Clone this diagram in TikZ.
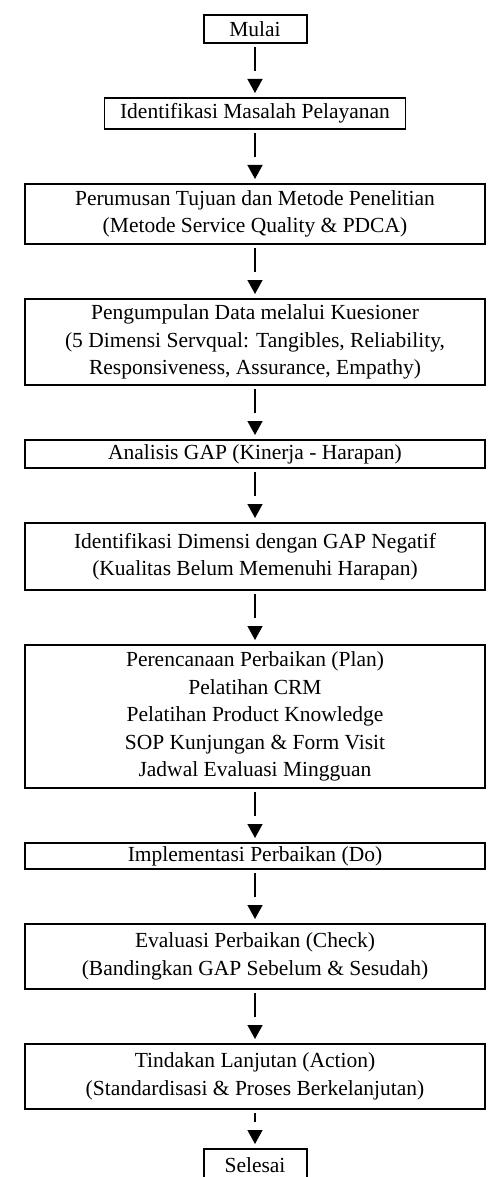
\documentclass[tikz,border=0pt]{standalone}
\usepackage{fontspec}
\setmainfont{Liberation Serif}
\usetikzlibrary{arrows.meta, positioning}
\tikzset{
    stepbox/.style={rectangle, draw, line width=1.5pt, align=center, inner sep=0pt, outer sep=0pt, font=\fontsize{21.5}{27.5}\selectfont},
    widebox/.style={stepbox, minimum width=460pt},
    termbox/.style={stepbox, line width=2pt, minimum width=103pt, minimum height=28pt},
    arrowline/.style={draw, line width=1.3pt, shorten <=4pt, shorten >=27pt},
    arrowtip/.style={draw, line width=1.3pt, -{Triangle[length=14pt, width=15pt]}, shorten >=5pt}
}
\begin{document}
\begin{tikzpicture}[x=1pt, y=1pt]
    \useasboundingbox (0,0) rectangle (490,-1177);
    \node[termbox] (mulai) at (255,-29) {Mulai};
    \node[stepbox, minimum width=301pt, minimum height=31pt, below=55pt of mulai] (masalah) {Identifikasi Masalah Pelayanan};
    \node[widebox, minimum height=60pt, below=55pt of masalah] (tujuan) {Perumusan Tujuan dan Metode Penelitian\\(Metode Service Quality \& PDCA)};
    \node[widebox, minimum height=86pt, below=55pt of tujuan] (data) {Pengumpulan Data melalui Kuesioner\\(5 Dimensi Servqual: Tangibles, Reliability,\\Responsiveness, Assurance, Empathy)};
    \node[widebox, minimum height=28pt, below=55pt of data] (gap) {Analisis GAP (Kinerja - Harapan)};
    \node[widebox, minimum height=67pt, below=55pt of gap] (negatif) {Identifikasi Dimensi dengan GAP Negatif\\(Kualitas Belum Memenuhi Harapan)};
    \node[widebox, minimum height=143pt, below=55pt of negatif] (plan) {Perencanaan Perbaikan (Plan)\\Pelatihan CRM\\Pelatihan Product Knowledge\\SOP Kunjungan \& Form Visit\\Jadwal Evaluasi Mingguan};
    \node[widebox, minimum height=26pt, below=55pt of plan] (do) {Implementasi Perbaikan (Do)};
    \node[widebox, minimum height=65pt, below=55pt of do] (check) {Evaluasi Perbaikan (Check)\\(Bandingkan GAP Sebelum \& Sesudah)};
    \node[widebox, minimum height=65pt, below=55pt of check] (action) {Tindakan Lanjutan (Action)\\(Standardisasi \& Proses Berkelanjutan)};
    \node[termbox, minimum height=32pt, below=40pt of action] (selesai) {Selesai};

    % Arrows: line, gap, then head
    \foreach \a/\b/\g in {mulai/masalah/55, masalah/tujuan/55, tujuan/data/55, data/gap/55, gap/negatif/55, negatif/plan/55, plan/do/55, do/check/55, check/action/55, action/selesai/40} {
        \draw[arrowline] (\a) -- (\b);
        \draw[arrowtip, shorten <=\g pt-19pt] (\a) -- (\b);
    }
\end{tikzpicture}
\end{document}
